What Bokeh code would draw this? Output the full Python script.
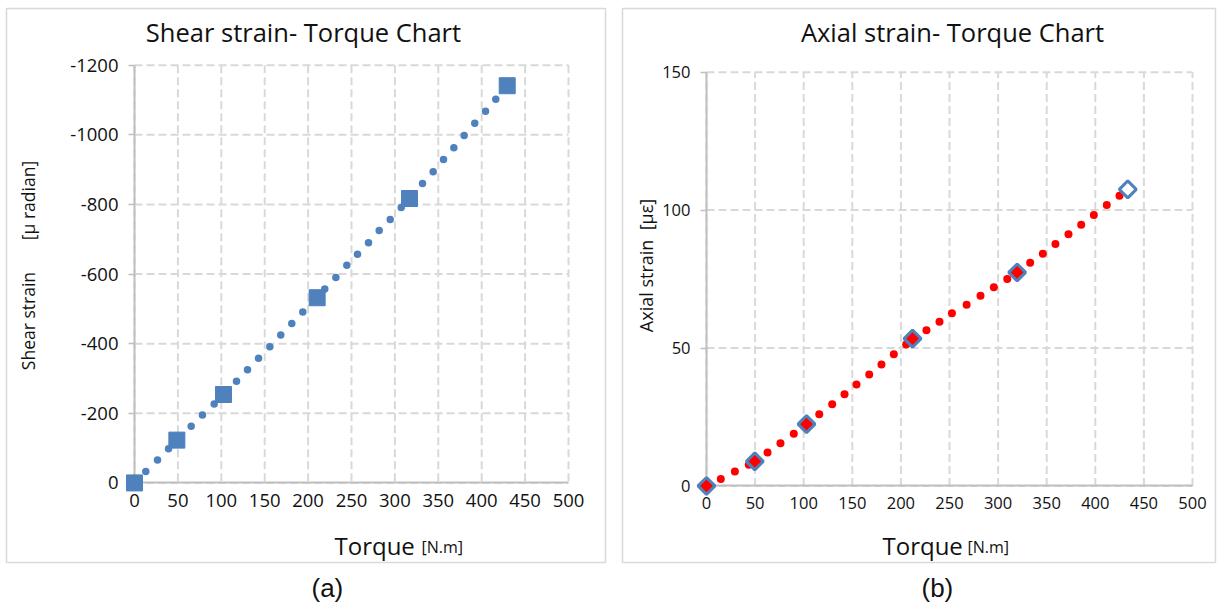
import math
from bokeh.plotting import figure
from bokeh.layouts import row
from bokeh.models import (Range1d, FixedTicker, Label, Title, ColumnDataSource,
                          PrintfTickFormatter)
from bokeh.embed import file_html
from bokeh.resources import INLINE

# ---------------- data ----------------
x_ticks = [0, 50, 100, 150, 200, 250, 300, 350, 400, 450, 500]
shear_ticks = [0, -200, -400, -600, -800, -1000, -1200]
axial_ticks = [0, 50, 100, 150]

# (a) shear strain - torque : measured points (squares)
shear_torque_pts = [0, 48.8, 102.5, 210.4, 316.8, 429.4]
shear_strain_pts = [0, -123, -254, -532, -817, -1141]
# (a) dotted trend line (blue dots)
shear_torque_trend = [13.0, 26.5, 39.2, 65.3, 78.3, 91.8, 117.5, 130.2, 142.9, 155.9, 168.5,
                      181.2, 193.9, 219.2, 232.0, 244.6, 256.9, 269.6, 281.9, 294.6, 307.3,
                      331.8, 344.1, 356.0, 367.9, 379.8, 392.0, 404.4, 416.2]
shear_strain_trend = [-33, -66, -98, -163, -195, -227, -292, -325, -358, -391, -425,
                      -458, -491, -557, -590, -625, -657, -690, -725, -757, -791,
                      -860, -894, -929, -963, -998, -1033, -1068, -1102]

# (b) axial strain - torque : measured points (diamonds)
axial_torque_pts = [0, 49.7, 102.9, 212.0, 319.6, 433.4]
axial_strain_pts = [0, 8.9, 22.4, 53.4, 77.4, 107.5]
# (b) dotted trend line (red dots)
axial_torque_trend = [14.7, 29.2, 43.5, 62.8, 76.1, 89.8, 116.0, 129.3, 142.0, 154.3, 167.4,
                      180.0, 192.7, 205.4, 226.3, 239.7, 252.5, 267.6, 281.9, 295.6, 309.4,
                      333.0, 346.0, 359.0, 372.4, 385.5, 398.5, 411.8, 424.9]
axial_strain_trend = [2.5, 5.2, 7.7, 12.1, 15.5, 18.9, 26.0, 29.6, 33.2, 36.8, 40.4,
                      44.0, 47.7, 51.3, 56.4, 59.5, 62.6, 65.7, 68.9, 72.0, 75.0,
                      80.9, 84.2, 87.7, 91.2, 94.7, 98.2, 101.8, 105.2]

FONT = "Open Sans"
GRID = "#d9d9d9"
AXIS = "#bfbfbf"
BLUE = "#4f81bd"
TXT = "#111111"


def panel_fig(x_range, y_range, yticks, border_left, tick_size):
    # the frame is the whole light-grey chart box; the plot area sits inside it
    p = figure(width=610, height=606, output_backend="svg", toolbar_location=None,
               x_range=x_range, y_range=y_range,
               min_border_left=border_left, min_border_right=5,
               min_border_top=8, min_border_bottom=41)
    p.outline_line_color = GRID
    p.outline_line_width = 1.5
    p.background_fill_color = "white"
    p.border_fill_color = "white"
    p.grid.visible = False
    ymin, ymax = min(yticks), max(yticks)
    # dashed grid lines, bounded to the plot area
    p.segment(x0=x_ticks, x1=x_ticks, y0=[ymin] * len(x_ticks), y1=[ymax] * len(x_ticks),
              line_color=GRID, line_width=2, line_dash="8 4", level="underlay")
    p.segment(x0=[x_ticks[0]] * len(yticks), x1=[x_ticks[-1]] * len(yticks), y0=yticks, y1=yticks,
              line_color=GRID, line_width=2, line_dash="8 4", level="underlay")
    xa, ya = p.xaxis[0], p.yaxis[0]
    xa.fixed_location = 0
    ya.fixed_location = 0
    xa.bounds = (x_ticks[0], x_ticks[-1])
    ya.bounds = (ymin, ymax)
    xa.ticker = FixedTicker(ticks=x_ticks)
    ya.ticker = FixedTicker(ticks=yticks)
    ya.formatter = PrintfTickFormatter(format="%d")
    xa.formatter = PrintfTickFormatter(format="%d")
    for ax in (xa, ya):
        ax.axis_line_color = AXIS
        ax.axis_line_width = 2
        ax.major_tick_line_color = AXIS
        ax.major_tick_line_width = 1.5
        ax.minor_tick_line_color = None
        ax.major_tick_in = 0
        ax.major_label_text_font = FONT
        ax.major_label_text_font_size = tick_size
        ax.major_label_text_color = TXT
    xa.major_tick_out = 0
    xa.major_label_standoff = 11
    ya.major_tick_out = 6
    ya.major_label_standoff = 10
    return p


def label(p, x, y, text, size, font=FONT, align="left", baseline="middle", angle=0.0):
    p.add_layout(Label(x=x, y=y, x_units="canvas", y_units="canvas", text=text,
                       text_font=font, text_font_size=size, text_color=TXT,
                       text_align=align, text_baseline=baseline, angle=angle))


def caption(p, text, offset):
    p.add_layout(Title(text=" ", text_font_size="6px", standoff=0), "below")
    p.add_layout(Title(text=text, align="left", offset=offset, text_font="Liberation Sans",
                       text_font_size="26px", text_font_style="normal", text_color=TXT,
                       standoff=4, vertical_align="top"), "below")


# ---------------- panel (a) ----------------
pa = panel_fig(Range1d(-147.47, 542.63), Range1d(228.57, -1362.86), shear_ticks, 6, "18.5px")
r1 = pa.scatter(shear_torque_trend, shear_strain_trend, size=7.5, marker="circle",
                fill_color=BLUE, line_color=None)
r2 = pa.scatter(shear_torque_pts, shear_strain_pts, size=16, marker="square",
                fill_color=BLUE, line_color=BLUE, line_width=1)
r1.level = "overlay"
r2.level = "overlay"
label(pa, 303, 31, "Shear strain- Torque Chart", "25.5px", align="center")
label(pa, 27, 265, "Shear strain\u00a0\u00a0\u00a0\u00a0\u00a0\u00a0\u00a0[\u00b5 radian]", "17.5px",
      align="center", angle=math.pi / 2)
label(pa, 334, 545, "Torque", "24px")
label(pa, 421, 546, "[N.m]", "16px")
caption(pa, "(a)", 305)

# ---------------- panel (b) ----------------
pb = panel_fig(Range1d(-86.42, 523.66), Range1d(-27.76, 173.08), axial_ticks, 12, "16.5px")
r3 = pb.scatter(axial_torque_trend, axial_strain_trend, size=8, marker="circle",
                fill_color="#ff0000", line_color=None)
dia_src = ColumnDataSource(dict(x=axial_torque_pts, y=axial_strain_pts,
                                fc=["#ff0000"] * (len(axial_torque_pts) - 1) + ["white"]))
r4 = pb.scatter("x", "y", source=dia_src, size=12, marker="square", angle=math.pi / 4,
                fill_color="fc", line_color=BLUE, line_width=3)
r3.level = "overlay"
r4.level = "overlay"
label(pb, 342, 31, "Axial strain- Torque Chart", "25.5px", align="center")
label(pb, 35, 265, "Axial strain\u00a0\u00a0[\u00b5\u03b5]", "18px",
      align="center", angle=math.pi / 2)
label(pb, 272, 545, "Torque", "24px")
label(pb, 357, 546, "[N.m]", "16px")
caption(pb, "(b)", 299)

layout = row(pa, pb, spacing=0)
open("out.html", "w").write(file_html(layout, INLINE))
